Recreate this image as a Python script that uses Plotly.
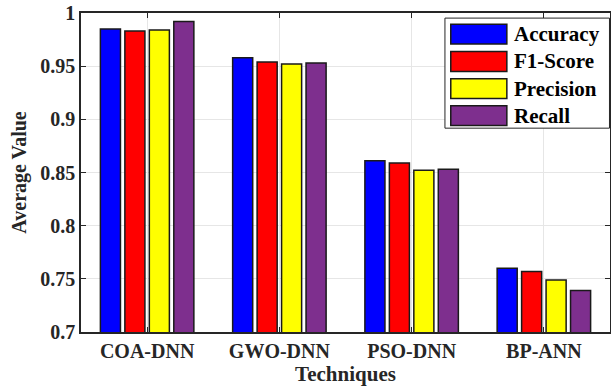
import plotly.graph_objects as go

techniques = ["COA-DNN", "GWO-DNN", "PSO-DNN", "BP-ANN"]
accuracy = [0.985, 0.958, 0.861, 0.760]
f1_score = [0.983, 0.954, 0.859, 0.757]
precision = [0.984, 0.952, 0.852, 0.749]
recall = [0.992, 0.953, 0.853, 0.739]

series = [
    ("Accuracy", accuracy, "#0000FF"),
    ("F1-Score", f1_score, "#FF0000"),
    ("Precision", precision, "#FFFF00"),
    ("Recall", recall, "#7E2F8E"),
]

FONT = "Liberation Serif"
EDGE = "#1a1a1a"

fig = go.Figure()
for name, vals, color in series:
    fig.add_trace(go.Bar(
        x=techniques, y=vals, name=name, showlegend=False,
        marker=dict(color=color, line=dict(color=EDGE, width=1.5)),
    ))

# custom legend (box, swatches, labels) in paper coordinates
shapes = [dict(type="rect", xref="paper", yref="paper", x0=0.688, x1=0.999, y0=0.639, y1=0.984,
               fillcolor="white", line=dict(color="#262626", width=1), layer="above")]
annotations = []
row_y = [0.934, 0.848, 0.763, 0.678]
for (name, _, color), yc in zip(series, row_y):
    shapes.append(dict(type="rect", xref="paper", yref="paper", x0=0.699, x1=0.805,
                       y0=yc - 0.031, y1=yc + 0.031, fillcolor=color,
                       line=dict(color=EDGE, width=1.5), layer="above"))
    annotations.append(dict(xref="paper", yref="paper", x=0.815, y=yc, xanchor="left", yanchor="middle",
                            text="<b>%s</b>" % name, showarrow=False,
                            font=dict(family=FONT, size=21, color="black")))

fig.update_layout(
    width=611, height=389,
    margin=dict(l=81, r=1, t=13, b=57),
    paper_bgcolor="white", plot_bgcolor="white",
    barmode="group", bargap=0.26, bargroupgap=0.18,
    font=dict(family=FONT, size=20, color="#262626"),
    shapes=shapes, annotations=annotations,
    xaxis=dict(
        title=dict(text="<b>Techniques</b>", font=dict(family=FONT, size=21, color="#262626"), standoff=4),
        tickfont=dict(family=FONT, size=20, color="#262626", weight="bold"),
        showgrid=True, gridcolor="#e6e6e6", gridwidth=1,
        showline=True, linecolor="#262626", linewidth=1.5, mirror="ticks",
        ticks="inside", ticklen=5, tickcolor="#262626", automargin=False,
    ),
    yaxis=dict(
        title=dict(text="<b>Average Value</b>", font=dict(family=FONT, size=20, color="#262626"), standoff=8),
        range=[0.7, 1.0], dtick=0.05, tickformat="~g",
        tickfont=dict(family=FONT, size=20, color="#262626", weight="bold"),
        showgrid=True, gridcolor="#e6e6e6", gridwidth=1,
        showline=True, linecolor="#262626", linewidth=1.5, mirror="ticks",
        ticks="inside", ticklen=5, tickcolor="#262626",
        zeroline=False, automargin=False,
    ),
)

fig.write_html("out.html", config={"displayModeBar": False},
               post_script="document.body.style.margin='0';")
